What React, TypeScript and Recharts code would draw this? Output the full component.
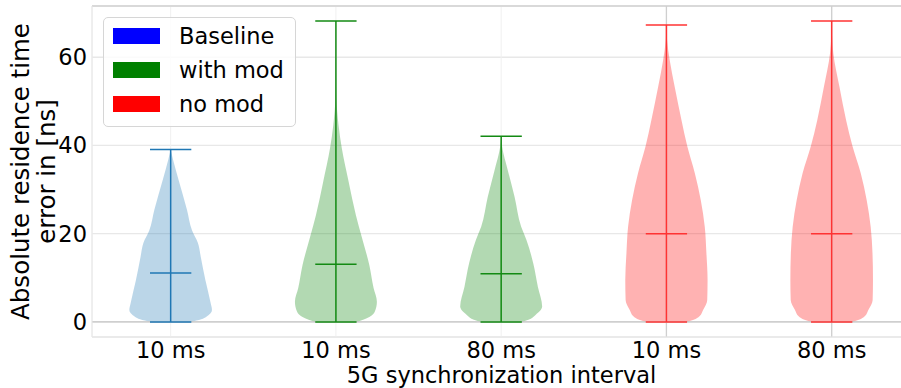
import React from 'react';
import {
  ComposedChart,
  Area,
  Line,
  XAxis,
  YAxis,
  CartesianGrid,
  ReferenceLine,
  Legend,
} from 'recharts';

const FONT = '"DejaVu Sans", sans-serif';

const groupNames = ['Baseline', 'with mod', 'no mod'];
const legendColors = ['#0000ff', '#008000', '#ff0000'];
const bodyColors = ['#1f77b4', '#008000', '#ff0000'];
const lineColors = ['#1f77b4', '#138a13', '#ff3333'];

const positions = [1, 2, 3, 4, 5];
const tickLabels = ['10 ms', '10 ms', '80 ms', '10 ms', '80 ms'];
const violinGroup = [0, 1, 1, 2, 2];
const minima = [0, 0, 0, 0, 0];
const maxima = [39.1, 68.2, 42.1, 67.3, 68.2];
const medians = [11.1, 13.1, 10.9, 20.0, 20.0];

// density profiles: error level [ns] and half width of the violin
const baselineLevels = [0, 0.6, 1.2, 2.7, 4.3, 9.5, 14.8, 17.9, 20.8, 25.4, 32.2, 36.7, 39.1];
const baselineWidths = [0.12, 0.185, 0.216, 0.25, 0.242, 0.21, 0.182, 0.165, 0.129, 0.099, 0.048, 0.015, 0];

const mod10Levels = [0, 0.5, 1.2, 2.3, 4.6, 7.7, 12.9, 19.7, 24.2, 31.8, 39.3, 44.6, 50.7, 56, 68.2];
const mod10Widths = [0.128, 0.165, 0.205, 0.235, 0.248, 0.228, 0.202, 0.153, 0.121, 0.077, 0.036, 0.016, 0.003, 0.001, 0];

const mod80Levels = [0, 0.5, 1.6, 3.5, 8.0, 13.3, 18.6, 21.6, 28.4, 34.4, 39.7, 42.1];
const mod80Widths = [0.127, 0.165, 0.208, 0.248, 0.222, 0.194, 0.153, 0.121, 0.081, 0.04, 0.006, 0];

const nomod10Levels = [0, 0.5, 1.3, 2.7, 5.0, 9.5, 15.6, 21.6, 27.6, 33.7, 39.7, 45.8, 53.3, 59.3, 63.9, 67.3];
const nomod10Widths = [0.125, 0.165, 0.2, 0.222, 0.247, 0.249, 0.242, 0.232, 0.208, 0.172, 0.127, 0.091, 0.05, 0.02, 0.004, 0];

const nomod80Levels = [0, 0.5, 1.3, 2.7, 5.0, 9.5, 15.6, 21.6, 27.6, 33.7, 39.7, 45.8, 53.3, 60.9, 65, 68.2];
const nomod80Widths = [0.125, 0.165, 0.2, 0.222, 0.248, 0.25, 0.247, 0.236, 0.212, 0.176, 0.127, 0.087, 0.047, 0.01, 0.002, 0];

const levels = [baselineLevels, mod10Levels, mod80Levels, nomod10Levels, nomod80Levels];
const widths = [baselineWidths, mod10Widths, mod80Widths, nomod10Widths, nomod80Widths];

const CAP = 0.125;

const violins = positions.map((pos, i) => ({
  pos,
  group: violinGroup[i],
  body: levels[i].map((y, k) => ({ y, span: [pos - widths[i][k], pos + widths[i][k]] })),
  stem: [
    { y: minima[i], x: pos },
    { y: maxima[i], x: pos },
  ],
}));

const LegendBox = () => (
  <div
    style={{
      boxSizing: 'border-box',
      width: 193,
      height: 110,
      border: '1px solid #d6d6d6',
      borderRadius: 5,
      background: 'rgba(255,255,255,0.8)',
      padding: '1px 0 0 9px',
      fontFamily: FONT,
      fontSize: 22.5,
      color: '#000',
    }}
  >
    {groupNames.map((name, i) => (
      <div key={name} style={{ display: 'flex', alignItems: 'center', height: 34 }}>
        <span style={{ display: 'inline-block', width: 47, height: 16, background: legendColors[i] }} />
        <span style={{ marginLeft: 19, lineHeight: 1 }}>{name}</span>
      </div>
    ))}
  </div>
);

const YLabel = (props: any) => {
  const vb = props.viewBox || { y: 6, height: 331 };
  const cy = vb.y + vb.height / 2;
  return (
    <text
      transform={`translate(29, ${cy}) rotate(-90)`}
      textAnchor="middle"
      fontFamily={FONT}
      fontSize={24.5}
      fill="#000"
    >
      <tspan x={0} dy={0}>Absolute residence time</tspan>
      <tspan x={0} dy={26}>error in [ns]</tspan>
    </text>
  );
};

export default function App() {
  return (
    <div style={{ position: 'absolute', left: 0, top: 0, width: 901, height: 388, overflow: 'hidden', background: '#fff' }}>
      <ComposedChart
        layout="vertical"
        width={911}
        height={388}
        margin={{ top: 6, right: 0, bottom: 0, left: 0 }}
      >
        <CartesianGrid vertical={false} stroke="#e8e8e8" strokeWidth={1.3} />
        <CartesianGrid horizontal={false} stroke="#f0f0f0" />
        <XAxis
          type="number"
          domain={[0.524, 5.48]}
          ticks={positions}
          allowDataOverflow
          tickFormatter={(v: number) => tickLabels[v - 1] ?? ''}
          tickLine={false}
          tickSize={5}
          tickMargin={0}
          height={51}
          axisLine={{ stroke: '#e6e6e6' }}
          tick={{ fontFamily: FONT, fontSize: 22.5, fill: '#000' }}
          label={{
            value: '5G synchronization interval',
            position: 'insideBottom',
            offset: 5,
            fontFamily: FONT,
            fontSize: 22.5,
            fill: '#000',
          }}
        />
        <YAxis
          type="number"
          dataKey="y"
          reversed
          domain={[-3.41, 71.61]}
          ticks={[0, 20, 40, 60]}
          allowDataOverflow
          tickLine={false}
          tickSize={5}
          tickMargin={0}
          width={92}
          axisLine={{ stroke: '#e6e6e6' }}
          tick={{ fontFamily: FONT, fontSize: 22.5, fill: '#000' }}
          label={<YLabel />}
        />
        <ReferenceLine y={71.61} stroke="#d9d9d9" strokeWidth={2} ifOverflow="visible" />
        <ReferenceLine y={0} stroke="#c4c4c4" strokeWidth={1.3} />
        <ReferenceLine x={4} stroke="#cfcfcf" strokeWidth={1.3} />
        <ReferenceLine x={5} stroke="#cfcfcf" strokeWidth={1.3} />
        {violins.map((v, i) => (
          <Area
            key={`body-${i}`}
            data={v.body}
            dataKey="span"
            type="monotone"
            fill={bodyColors[v.group]}
            fillOpacity={0.3}
            stroke="none"
            dot={false}
            activeDot={false}
            isAnimationActive={false}
          />
        ))}
        {violins.map((v, i) => (
          <Line
            key={`stem-${i}`}
            data={v.stem}
            dataKey="x"
            type="linear"
            stroke={lineColors[v.group]}
            strokeWidth={1.5}
            dot={false}
            activeDot={false}
            isAnimationActive={false}
          />
        ))}
        {violins.map((v, i) =>
          [minima[i], medians[i], maxima[i]].map((val, k) => (
            <ReferenceLine
              key={`cap-${i}-${k}`}
              segment={[
                { x: v.pos - CAP, y: val },
                { x: v.pos + CAP, y: val },
              ]}
              stroke={lineColors[v.group]}
              strokeWidth={1.5}
            />
          ))
        )}
        <Legend
          content={<LegendBox />}
          layout="vertical"
          align="center"
          verticalAlign="middle"
          wrapperStyle={{ left: 103, top: 17, width: 'auto', height: 'auto' }}
        />
      </ComposedChart>
    </div>
  );
}
